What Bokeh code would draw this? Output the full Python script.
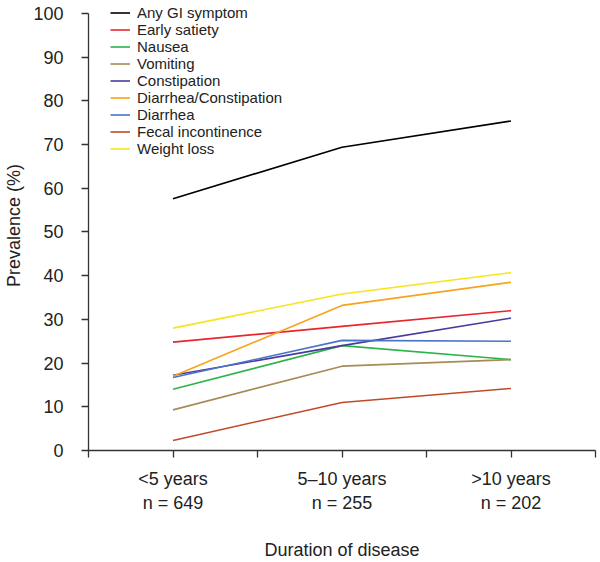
from bokeh.plotting import figure
from bokeh.models import FixedTicker, Legend, LegendItem
from bokeh.embed import file_html
from bokeh.resources import INLINE

categories = ["<5 years\nn = 649", "5\u201310 years\nn = 255", ">10 years\nn = 202"]
x_pos = [1, 3, 5]

series_names = ["Any GI symptom", "Early satiety", "Nausea", "Vomiting", "Constipation",
                "Diarrhea/Constipation", "Diarrhea", "Fecal incontinence", "Weight loss"]
any_gi = [57.6, 69.4, 75.4]
early_satiety = [24.8, 28.4, 32.0]
nausea = [14.0, 24.0, 20.8]
vomiting = [9.3, 19.3, 20.8]
constipation = [17.2, 24.0, 30.3]
diarrhea_constipation = [17.0, 33.2, 38.5]
diarrhea = [16.7, 25.2, 25.0]
fecal_incontinence = [2.3, 11.0, 14.2]
weight_loss = [28.0, 35.8, 40.7]

colors = ["#000000", "#e8262b", "#2cb34a", "#a68b55", "#4a3a9c",
          "#f8a31c", "#4a74c8", "#c04a28", "#f7e51a"]
values = [any_gi, early_satiety, nausea, vomiting, constipation,
          diarrhea_constipation, diarrhea, fecal_incontinence, weight_loss]

FONT = "Liberation Sans"
TXT = "#222222"

p = figure(width=600, height=562, output_backend="svg", toolbar_location=None,
           x_range=(0, 6), y_range=(0, 102.97),
           min_border_left=88, min_border_right=5, min_border_top=0, min_border_bottom=112)
p.outline_line_color = None
p.xgrid.visible = False
p.ygrid.visible = False

items = []
for name, vals, c in zip(series_names, values, colors):
    r = p.line(x_pos, vals, line_color=c, line_width=1.6)
    items.append(LegendItem(label=name, renderers=[r]))

legend = Legend(items=items, location=(22, 293), margin=0, padding=0,
                border_line_alpha=0, background_fill_alpha=0,
                label_text_font=FONT, label_text_font_size="15px", label_text_color=TXT,
                glyph_width=20, glyph_height=17, label_height=17, spacing=0,
                label_standoff=7)
p.add_layout(legend)

# x axis
p.xaxis.ticker = FixedTicker(ticks=[0, 1, 2, 3, 4, 5, 6])
overrides = {0: "", 2: "", 4: "", 6: ""}
for xp, lab in zip(x_pos, categories):
    overrides[xp] = lab
p.xaxis.major_label_overrides = overrides
p.xaxis.minor_tick_line_color = None
p.xaxis.major_tick_in = 0
p.xaxis.major_tick_out = 7
p.xaxis.major_label_standoff = 11
p.xaxis.axis_label = "Duration of disease"
p.xaxis.axis_label_standoff = 24

# y axis
p.yaxis.ticker = FixedTicker(ticks=list(range(0, 101, 10)))
p.yaxis.bounds = (0, 100)
p.yaxis.minor_tick_line_color = None
p.yaxis.major_tick_in = 0
p.yaxis.major_tick_out = 7
p.yaxis.major_label_standoff = 18
p.yaxis.axis_label = "Prevalence (%)"
p.yaxis.axis_label_standoff = 6

for ax in (p.xaxis, p.yaxis):
    ax.axis_line_color = "#333333"
    ax.axis_line_width = 1.3
    ax.major_tick_line_color = "#333333"
    ax.major_tick_line_width = 1.3
    ax.major_label_text_font = FONT
    ax.major_label_text_font_size = "18px"
    ax.major_label_text_color = TXT
    ax.axis_label_text_font = FONT
    ax.axis_label_text_font_size = "18px"
    ax.axis_label_text_font_style = "normal"
    ax.axis_label_text_color = TXT

open("out.html", "w").write(file_html(p, INLINE))
